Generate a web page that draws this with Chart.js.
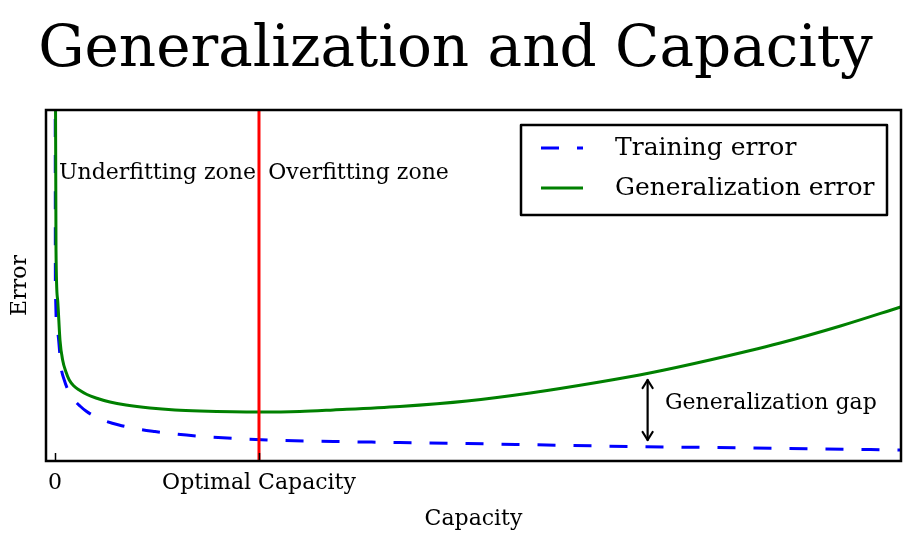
<!DOCTYPE html>
<html><head><meta charset="utf-8">
<script src="https://cdn.jsdelivr.net/npm/chart.js@4.4.1/dist/chart.umd.min.js"></script>
<style>html,body{margin:0;padding:0;background:#fff;}canvas{display:block;}</style>
</head><body>
<canvas id="c" width="923" height="543"></canvas>
<script>
// ---- data ----
const chartTitle = 'Generalization and Capacity';
const xAxisTitle = 'Capacity';
const yAxisTitle = 'Error';
const seriesNames = ['Training error', 'Generalization error'];
const genCapacity = [0.03, 0.1, 0.26, 0.49, 0.75, 1.08, 1.40, 1.86, 2.38, 3.14, 4.02, 5.39, 6.96, 9.31, 11.76, 14.2, 20.0, 24.0, 27.3, 33.8, 40.4, 46.6, 53.4, 58.3, 64.2, 71.1, 77.0, 82.9];
const generalizationError = [4.5, 2.11, 1.61, 1.21, 1.01, 0.89, 0.81, 0.75, 0.71, 0.665, 0.63, 0.59, 0.56, 0.53, 0.51, 0.50, 0.49, 0.495, 0.51, 0.545, 0.60, 0.68, 0.79, 0.88, 1.01, 1.18, 1.35, 1.54];
const trainCapacity = [0.02, 0.04, 0.26, 0.59, 0.91, 1.37, 1.89, 2.45, 3.04, 3.92, 4.80, 6.27, 8.14, 9.80, 11.76, 15.2, 18.8, 22.35, 27.3, 33.8, 40.4, 53.4, 68.1, 82.9];
const trainingError = [4.5, 1.78, 1.28, 0.94, 0.81, 0.69, 0.61, 0.55, 0.50, 0.445, 0.405, 0.36, 0.32, 0.295, 0.27, 0.24, 0.22, 0.205, 0.195, 0.185, 0.175, 0.15, 0.13, 0.11];
const optimalCapacity = 20;
const tickValues = [0, 20];
const tickLabels = ['0', 'Optimal Capacity'];
const zoneLabels = ['Underfitting zone', 'Overfitting zone'];
const gapLabel = 'Generalization gap';

// ---- styling ----
const FONT = "'DejaVu Serif', 'Liberation Serif', serif";
const X_MIN = -0.88, X_MAX = 82.94, Y_MIN = 0, Y_MAX = 3.51;
const pts = (xs, ys) => xs.map((x, i) => ({x: x, y: ys[i]}));

const overlay = {
  id: 'overlay',
  afterDatasetsDraw(chart) {
    const {ctx, chartArea: a, scales: {x, y}} = chart;
    ctx.save();
    // tick marks (inside)
    ctx.strokeStyle = '#000'; ctx.lineWidth = 1.5;
    tickValues.forEach(v => {
      const px = Math.round(x.getPixelForValue(v)) + 0.5;
      ctx.beginPath(); ctx.moveTo(px, a.bottom); ctx.lineTo(px, a.bottom - 8); ctx.stroke();
    });
    // frame
    ctx.lineWidth = 2.5;
    ctx.strokeRect(a.left, a.top, a.right - a.left, a.bottom - a.top);
    // zone labels
    ctx.fillStyle = '#000';
    ctx.font = '22px ' + FONT;
    ctx.textBaseline = 'middle'; ctx.textAlign = 'left';
    ctx.fillText(zoneLabels[0], x.getPixelForValue(0.39), y.getPixelForValue(2.88));
    ctx.fillText(zoneLabels[1], x.getPixelForValue(20.9), y.getPixelForValue(2.88));
    // generalization gap arrow
    const ax = x.getPixelForValue(58.1);
    const y1 = y.getPixelForValue(0.81), y2 = y.getPixelForValue(0.21);
    ctx.lineWidth = 2.2; ctx.lineCap = 'round'; ctx.lineJoin = 'round';
    ctx.beginPath(); ctx.moveTo(ax, y1); ctx.lineTo(ax, y2); ctx.stroke();
    ctx.beginPath(); ctx.moveTo(ax - 5, y1 + 8); ctx.lineTo(ax, y1); ctx.lineTo(ax + 5, y1 + 8); ctx.stroke();
    ctx.beginPath(); ctx.moveTo(ax - 5, y2 - 8); ctx.lineTo(ax, y2); ctx.lineTo(ax + 5, y2 - 8); ctx.stroke();
    ctx.fillText(gapLabel, x.getPixelForValue(59.8), y.getPixelForValue(0.58));
    // legend box
    const lx = a.right - 380, ly = a.top + 15, lw = 366, lh = 90;
    ctx.fillStyle = '#fff';
    ctx.fillRect(lx, ly, lw, lh);
    ctx.lineWidth = 2.5; ctx.strokeStyle = '#000'; ctx.lineCap = 'butt';
    ctx.strokeRect(lx, ly, lw, lh);
    const ds = chart.data.datasets;
    const rows = [{d: ds[2], y: ly + 23}, {d: ds[1], y: ly + 63}];
    ctx.font = '25px ' + FONT;
    ctx.fillStyle = '#000';
    rows.forEach(r => {
      ctx.strokeStyle = r.d.borderColor; ctx.lineWidth = r.d.borderWidth;
      ctx.setLineDash(r.d.borderDash || []);
      ctx.beginPath(); ctx.moveTo(lx + 20, r.y); ctx.lineTo(lx + 62, r.y); ctx.stroke();
      ctx.setLineDash([]);
      ctx.fillText(r.d.label, lx + 94, r.y);
    });
    ctx.restore();
  }
};

new Chart(document.getElementById('c'), {
  type: 'scatter',
  data: {
    datasets: [
      {label: 'Optimal', data: pts([optimalCapacity, optimalCapacity], [Y_MIN, Y_MAX]), showLine: true, borderColor: '#ff0000', borderWidth: 3, pointRadius: 0},
      {label: seriesNames[1], data: pts(genCapacity, generalizationError), showLine: true, borderColor: '#008000', borderWidth: 3, pointRadius: 0, cubicInterpolationMode: 'monotone'},
      {label: seriesNames[0], data: pts(trainCapacity, trainingError), showLine: true, borderColor: '#0000ff', borderWidth: 3, borderDash: [18, 18], pointRadius: 0, cubicInterpolationMode: 'monotone'}
    ]
  },
  options: {
    responsive: false, animation: false, devicePixelRatio: 1,
    layout: {padding: {left: 0, right: 12, top: 0, bottom: 0}},
    plugins: {
      legend: {display: false}, tooltip: {enabled: false},
      title: {display: true, text: chartTitle, color: '#000', font: {family: FONT, size: 58, weight: 'normal', lineHeight: 1.2}, padding: {top: 16, bottom: 24.4}}
    },
    scales: {
      x: {
        type: 'linear', min: X_MIN, max: X_MAX,
        afterBuildTicks: s => { s.ticks = tickValues.map(v => ({value: v})); },
        afterFit: s => { s.height = 82; },
        ticks: {autoSkip: false, maxRotation: 0, color: '#000', padding: 9, font: {family: FONT, size: 22},
          callback: (v) => { const i = tickValues.indexOf(v); return i >= 0 ? tickLabels[i] : ''; }},
        grid: {display: false, drawTicks: false}, border: {display: false},
        title: {display: true, text: xAxisTitle, color: '#000', font: {family: FONT, size: 22, lineHeight: 1.2}, padding: {top: 4, bottom: 11}}
      },
      y: {
        type: 'linear', min: Y_MIN, max: Y_MAX,
        afterFit: s => { s.width = 46; },
        ticks: {display: false}, grid: {display: false, drawTicks: false}, border: {display: false},
        title: {display: true, text: yAxisTitle, color: '#000', font: {family: FONT, size: 22, lineHeight: 1.2}, padding: {top: 7, bottom: 0}}
      },
      yRight: {
        type: 'linear', position: 'right', min: Y_MIN, max: Y_MAX,
        afterFit: s => { s.width = 10; },
        ticks: {display: false}, grid: {display: false, drawTicks: false}, border: {display: false}
      }
    }
  },
  plugins: [overlay]
});
</script>
</body></html>
